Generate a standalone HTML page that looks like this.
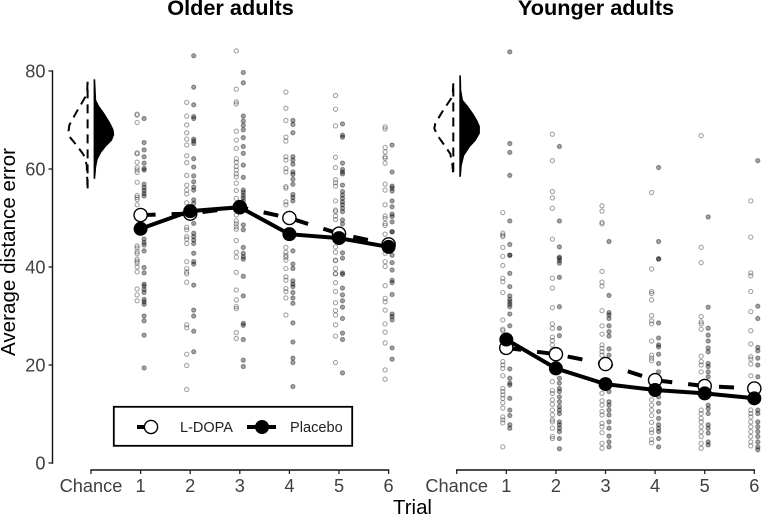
<!DOCTYPE html>
<html>
<head>
<meta charset="utf-8">
<title>Average distance error by trial</title>
<style>
html,body{margin:0;padding:0;background:#fff;width:762px;height:515px;overflow:hidden}
svg{display:block;font-family:"Liberation Sans",sans-serif}
</style>
</head>
<body>
<svg id="chart" xmlns="http://www.w3.org/2000/svg" width="762" height="515" viewBox="0 0 762 515"></svg>
<script>
var trialLabels = ["Chance", "1", "2", "3", "4", "5", "6"];
var yTicks = [0, 20, 40, 60, 80];

var olderLdopaMeans = [50.6, 50.9, 52.2, 50.0, 46.8, 44.6];
var olderPlaceboMeans = [47.8, 51.4, 52.2, 46.7, 45.9, 44.1];
var youngerLdopaMeans = [23.5, 22.2, 20.2, 16.9, 15.7, 15.2];
var youngerPlaceboMeans = [25.2, 19.3, 16.1, 14.9, 14.2, 13.2];

var olderLdopaPoints = [
 [71.2,71,69.5,63.3,63.1,61.4,60.3,59.8,59.3,57.3,54.6,54.2,53.8,52.7,44.3,43.9,43.1,42.7,41.6,41.2,40.8,40,39,35.5,34.3,33.1],
 [73.6,70.8,69,67.4,66.1,64.9,62.7,61.3,58.7,56.7,55.7,54.9,53.1,48.1,47.6,46.2,45.7,44.8,41.1,39.7,39,38.6,36.9,28.2,27.6,22.2,19.9,15],
 [84.1,76.3,73.7,73.3,67.7,65.9,64.2,62.1,61.4,60.5,59.8,59,58.4,57.1,55.6,54,52.7,50.6,49.4,48.8,48.2,47.7,45.4,43,42,38.9,35.3,33.3,31.9,31.5,26.6,25.4],
 [75.7,72.4,69.9,66.5,65.7,62.5,61.8,60.1,59.4,56.4,56.1,53.3,52.7,44,43,42.4,42,41.4,39.7,38,37.3,35.6,35,33.7,30.2],
 [75,72.2,68.8,62.4,60.3,57.8,57.2,56.5,53.5,51.6,51.3,50.4,49.7,44.1,43,41.4,41.3,39.7,38.7,38.6,36.8,35,32.7,31.1,30.2,28.2,25.9,20.5],
 [68.6,68.2,64.4,63.5,62.5,62.2,61.2,56.9,55.7,52.7,50.4,49.9,48.9,48.5,46.7,42.8,41.1,40.1,36.2,33.6,32.9,31.2,28.4,26.7,24.5,19,17.1]
];
var olderPlaceboPoints = [
 [70.3,65.4,63.9,62.5,61.2,60.1,59.8,56.9,56.2,55.6,55,54.5,45.7,45,44.5,43.3,39.9,38.8,36.5,36.1,35.4,34.8,33.4,32.9,32.4,30,29,26.1,19.4],
 [83.1,76.7,73.1,70.7,70.3,66.1,65.7,65.2,62.1,60.4,58.6,57.4,56.3,55.7,53.7,53,48.9,46.9,46.2,45.5,44.8,42.8,41.1,40.6,36.3,31.2,30,26.9,22.7],
 [79.7,77.6,70.8,69.8,68.9,68,66.4,64.6,63.2,60.8,58.3,55.7,55.2,54.6,54.1,53.5,48.6,47.6,44,42.8,42.1,41.6,38.1,34.1,28.5,28.1,25.2,21,19.7],
 [69.9,69.1,67.4,62.5,61.8,61,59.4,58.9,57.9,56.9,54.8,54.2,53.5,43.3,40.6,39.7,37.2,36.5,36,34.8,33.7,32.6,28.6,24.7,21.4,20.5,15.6],
 [69.2,66.9,66.5,61.2,59.9,59.4,59,56.7,55.4,54.7,54,53.3,52.7,52,51.3,49.6,48.8,42.9,41.8,38.8,38.5,35.7,34.3,33.1,31.8,29.5,26.5,25.2,18.4],
 [64.9,59.4,56.5,56.1,55.5,53.5,52.3,50.8,50.3,49.2,47.2,47.2,42.4,40.9,39.4,37.3,36.8,34.4,30.4,29.9,29.2,23.5,21.2]
];
var youngerLdopaPoints = [
 [51.1,46.9,46.5,46.2,44,42.2,40.3,37.7,37,34.8,29.2,27.3,27,22.7,20.7,20,19.3,17.8,15.2,14.6,13.9,13.2,12.3,11.2,9.4,8.8,8.2,3.3],
 [67.1,61.7,55.4,54.1,52,45.7,37.7,35.7,31.7,28.4,27.5,25.7,25,24.1,23.1,22,16.6,14.8,14.2,12.9,12,10.8,9.8,8.8,8.4,7.1,5.4,5],
 [52.5,51.4,49.1,48.8,39.1,36.9,36.1,31.1,28,26.3,24.1,23.4,22.7,22,14.2,12.7,11.8,10.5,9.8,8.1,7.4,6.2,4,3],
 [55.2,39.6,35,34.6,33.3,30.1,29,28.4,24.9,22,21.4,20.9,12.9,11.8,10.8,9.7,8.3,6.8,6.2,4.8,4.1],
 [66.8,44,40.9,29.9,28.8,28.4,27.3,21.8,20.7,20,18.6,10.8,10.1,9.1,8.4,7.4,6.4,5.4,4,3],
 [53.5,46.1,38.8,38.2,35,30.9,27,24.3,21.7,21.2,20.2,17.8,10.8,10.1,9.4,8.4,7.4,6.4,5.4,4.3,3.5]
];
var youngerPlaceboPoints = [
 [83.9,65.2,63.4,58.7,49.4,44.6,42.4,42.4,38.7,36,34.1,33.4,32.9,32.4,31.9,30.4,28,19.2,17.3,16.3,15.9,13.2,10.8,9.7,7.8,7.1],
 [64.6,49.4,44.1,41.8,42,41.3,40.8,37.9,31.9,27.5,26,17.3,16.3,15.2,14.6,13.5,12.5,11.5,10.8,10.1,8.4,7.8,7.1,6.4,5,2.9],
 [45.2,34.2,30.7,30.2,29.5,28,26.8,25.9,23.3,22,20.3,14.6,12.5,11.8,10.8,9.8,8.4,7.1,5.5,4.3,3.3],
 [60.3,45.2,41.7,41.6,28.6,25.5,24.1,23.7,22.2,20.3,18.6,13.5,12.2,10.5,9.1,7.8,7.1,6.4,5,3.3],
 [50.2,31.8,27.5,26.1,24.9,23.5,22.7,20.3,19.7,18.6,17.6,11.8,11.1,10.1,7.8,7.1,6.1,4.3,3.7],
 [61.7,32,29.5,23.6,22.9,21.4,20,17.6,10.8,10.1,8.4,7.4,6.4,5.4,4.3,3.3,2.7]
];

var olderPlaceboDensityAt = [78.3,74,72.8,71.4,69.4,68,67,65.9,64.7,63.4,62,60.4,58];
var olderPlaceboDensity = [0,0.05,0.21,0.47,0.79,0.97,1,0.89,0.58,0.32,0.13,0.05,0];
var olderLdopaDensityAt = [77.8,76,74.7,71.6,69,67.8,66.6,64.9,62.9,60.8,55.7];
var olderLdopaDensity = [0,0.02,0.12,0.59,0.96,1,0.95,0.59,0.21,0.04,0];
var youngerPlaceboDensityAt = [79.1,76.1,74,72.8,71.1,69.7,68.7,67.3,65.9,64.5,62.8,60.7,58.4];
var youngerPlaceboDensity = [0,0.02,0.11,0.37,0.68,0.89,1,1,0.79,0.47,0.18,0.05,0];
var youngerLdopaDensityAt = [77.5,75.1,74.4,71.7,69.3,68.3,66.9,65.2,63.1,60.7,58.8];
var youngerLdopaDensity = [0,0.03,0.11,0.58,0.95,1,0.84,0.53,0.16,0.04,0];

var svg = document.getElementById('chart');
var NS = 'http://www.w3.org/2000/svg';

function yScale(v) { return 463 - v * 4.9; }
function xScale(panelChanceX, index) { return panelChanceX + index * 49.6; }

function add(tag, attrs, parent, text) {
  var el = document.createElementNS(NS, tag);
  for (var k in attrs) { el.setAttribute(k, attrs[k]); }
  if (text !== undefined) { el.textContent = text; }
  (parent || svg).appendChild(el);
  return el;
}

function drawXAxis(chanceX, prefix) {
  var g = add('g', {});
  
  
  add('line', {x1: chanceX - 0.7, x2: xScale(chanceX, 6) + 0.7, y1: 470, y2: 470, stroke: '#111', 'stroke-width': 1.4}, g);
  trialLabels.forEach(function (label, i) {
    var x = xScale(chanceX, i);
    add('line', {x1: x, x2: x, y1: 470, y2: 474, stroke: '#222', 'stroke-width': 1.3}, g);
    var t = add('text', {x: x, y: 492, 'text-anchor': 'middle', 'font-size': 18.2, fill: '#404040'}, g, label);
    
    
  });
}

function densityPath(spineX, dir, at, dens) {
  var d = '';
  at.forEach(function (v, i) {
    d += (i ? 'L' : 'M') + (spineX + dir * dens[i] * 19).toFixed(1) + ' ' + yScale(v).toFixed(1);
  });
  return d;
}

function drawDensity(chanceX, prefix, ldAt, ld, plAt, pl) {
  var spineL = chanceX - 3.4;
  var spineR = chanceX + 3.4;
  var dashed = add('path', {d: densityPath(spineL, -1, ldAt, ld) + 'Z', fill: 'none', stroke: '#000', 'stroke-width': 2, 'stroke-dasharray': '9 6'});
  
  
  var solid = add('path', {d: densityPath(spineR, 1, plAt, pl) + 'Z', fill: '#000', stroke: '#000', 'stroke-width': 1.6});
  
  
}

function drawPoints(chanceX, prefix, series, offset, filled) {
  var g = add('g', {});
  
  
  series.forEach(function (vals, t) {
    vals.forEach(function (v) {
      add('circle', {
        cx: xScale(chanceX, t + 1) + offset, cy: yScale(v), r: 2.1,
        fill: filled ? 'rgba(0,0,0,0.36)' : 'none',
        stroke: 'rgba(0,0,0,0.36)', 'stroke-width': 1.1
      }, g);
    });
  });
}

function linePoints(chanceX, means) {
  return means.map(function (m, i) {
    return xScale(chanceX, i + 1).toFixed(1) + ',' + yScale(m).toFixed(1);
  }).join(' ');
}

function drawMeans(chanceX, prefix, ldMeans, plMeans) {
  var ldLine = add('polyline', {points: linePoints(chanceX, ldMeans), fill: 'none', stroke: '#000', 'stroke-width': 4, 'stroke-dasharray': '15 16'});
  
  
  var plLine = add('polyline', {points: linePoints(chanceX, plMeans), fill: 'none', stroke: '#000', 'stroke-width': 4});
  
  
  ldMeans.forEach(function (m, i) {
    var c = add('circle', {cx: xScale(chanceX, i + 1), cy: yScale(m), r: 6.6, fill: '#fff', stroke: '#000', 'stroke-width': 1.4});
    
    
  });
  plMeans.forEach(function (m, i) {
    var c = add('circle', {cx: xScale(chanceX, i + 1), cy: yScale(m), r: 7, fill: '#000'});
    
    
  });
}

// y axis
var yAxis = add('g', {});


add('line', {x1: 52.5, x2: 52.5, y1: yScale(80) - 0.7, y2: yScale(0) + 0.7, stroke: '#111', 'stroke-width': 1.4}, yAxis);
yTicks.forEach(function (v) {
  add('line', {x1: 48.5, x2: 52.5, y1: yScale(v), y2: yScale(v), stroke: '#222', 'stroke-width': 1.3}, yAxis);
  var t = add('text', {x: 45.5, y: yScale(v) + 6.5, 'text-anchor': 'end', 'font-size': 18.2, fill: '#404040'}, yAxis, String(v));
  
  
});

var OLDER = 91;
var YOUNGER = 456.7;

drawXAxis(OLDER, 'older');
drawXAxis(YOUNGER, 'younger');

drawDensity(OLDER, 'older', olderLdopaDensityAt, olderLdopaDensity, olderPlaceboDensityAt, olderPlaceboDensity);
drawDensity(YOUNGER, 'younger', youngerLdopaDensityAt, youngerLdopaDensity, youngerPlaceboDensityAt, youngerPlaceboDensity);

drawPoints(OLDER, 'older-ldopa', olderLdopaPoints, -3.5, false);
drawPoints(OLDER, 'older-placebo', olderPlaceboPoints, 3.5, true);
drawPoints(YOUNGER, 'younger-ldopa', youngerLdopaPoints, -3.5, false);
drawPoints(YOUNGER, 'younger-placebo', youngerPlaceboPoints, 3.5, true);

drawMeans(OLDER, 'older', olderLdopaMeans, olderPlaceboMeans);
drawMeans(YOUNGER, 'younger', youngerLdopaMeans, youngerPlaceboMeans);
</script>
<script>
(function () {
  function text(name, attrs, content) {
    var el = document.createElementNS('http://www.w3.org/2000/svg', 'text');
    for (var k in attrs) { el.setAttribute(k, attrs[k]); }
    el.textContent = content;
    
    
    document.getElementById('chart').appendChild(el);
    return el;
  }
  text('older-panel-title', {x: 230.5, y: 15, 'text-anchor': 'middle', 'font-size': 21.7, 'font-weight': 'bold', fill: '#000'}, 'Older adults');
  text('younger-panel-title', {x: 596, y: 15, 'text-anchor': 'middle', 'font-size': 21.7, 'font-weight': 'bold', fill: '#000'}, 'Younger adults');
  text('x-axis-title', {x: 412.5, y: 514, 'text-anchor': 'middle', 'font-size': 20.4, fill: '#000'}, 'Trial');
  text('y-axis-title', {x: 0, y: 0, transform: 'translate(15 252) rotate(-90)', 'text-anchor': 'middle', 'font-size': 20.6, fill: '#000'}, 'Average distance error');
})();
</script>
<svg style="position:absolute;left:0;top:0" width="762" height="515" viewBox="0 0 762 515">
  <g>
    <rect x="113.8" y="406.8" width="238.4" height="39" fill="#fff" stroke="#000" stroke-width="1.8"/>
    <g>
      <line x1="137" x2="148" y1="427" y2="427" stroke="#000" stroke-width="4"/>
      <circle cx="151" cy="427" r="6.6" fill="#fff" stroke="#000" stroke-width="1.4"/>
      <text x="180" y="432" font-size="14.5" fill="#222" font-family="Liberation Sans, sans-serif">L-DOPA</text>
    </g>
    <g>
      <line x1="247" x2="276" y1="427" y2="427" stroke="#000" stroke-width="4"/>
      <circle cx="262" cy="427" r="7" fill="#000"/>
      <text x="290" y="432" font-size="14.6" fill="#222" font-family="Liberation Sans, sans-serif">Placebo</text>
    </g>
  </g>
</svg>
</body>
</html>
